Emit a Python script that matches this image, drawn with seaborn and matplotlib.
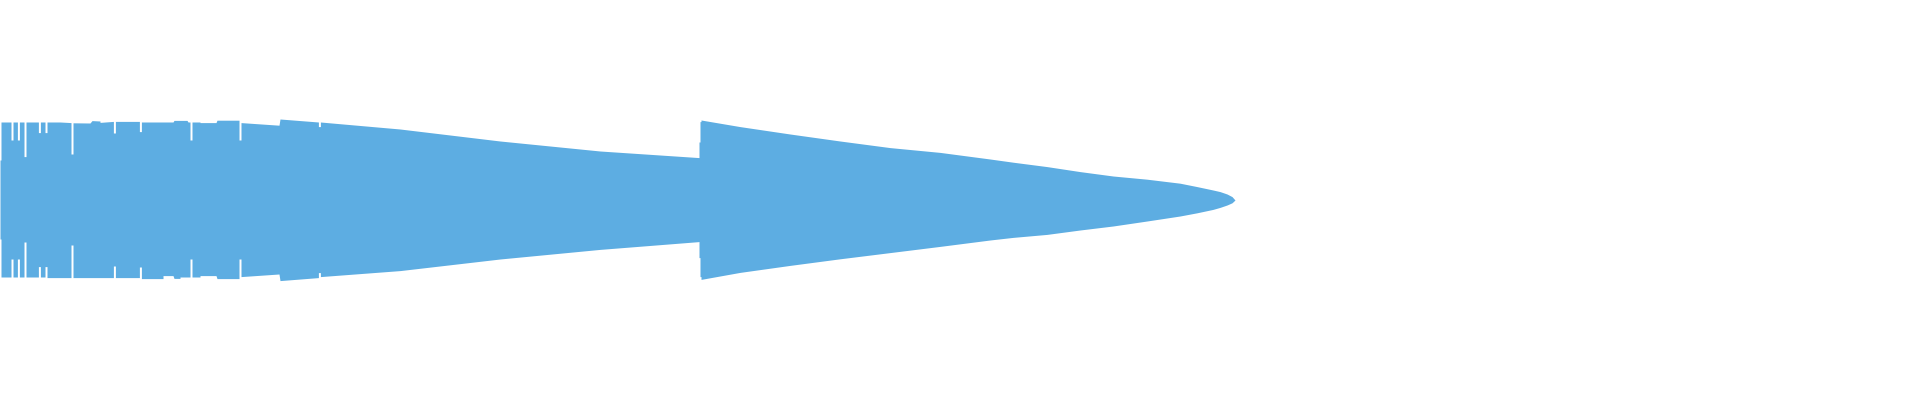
import numpy as np
import pandas as pd
import matplotlib
matplotlib.use("Agg")
import matplotlib.pyplot as plt
import seaborn as sns

# waveform envelope: time (ms), upper peak, lower peak
# amplitude is full scale = 1.0, the short dips are the white notches
t_ms = [0, 5, 5, 55, 55, 65, 65, 87, 87, 97, 97, 120, 120, 130, 130,
        192, 192, 202, 202, 225, 225, 235, 235, 300, 355, 355, 365, 365,
        450, 460, 500, 500, 567, 567, 577, 577, 697, 697, 707, 707,
        815, 815, 865, 870, 900, 900, 935, 940, 950, 950, 960, 960,
        1000, 1000, 1080, 1085, 1195, 1195, 1205, 1205, 1395, 1400,
        1592, 1592, 1602, 1602, 2000, 2500, 3000, 3495, 3495, 3500,
        3500, 3505, 3505, 3700, 3950, 4200, 4450, 4700, 4950, 5065,
        5235, 5400, 5565, 5735, 5900, 5985, 6065, 6100, 6135, 6160, 6175]

upper = [0.200, 0.200, 0.390, 0.390, 0.300, 0.300, 0.390, 0.390, 0.300,
         0.300, 0.390, 0.390, 0.217, 0.217, 0.390,
         0.390, 0.337, 0.337, 0.390, 0.390, 0.337, 0.337, 0.390, 0.390,
         0.387, 0.230, 0.230, 0.386,
         0.385, 0.397, 0.395, 0.388, 0.393, 0.335, 0.335, 0.393, 0.393,
         0.342, 0.342, 0.390,
         0.390, 0.390, 0.390, 0.398, 0.398, 0.398, 0.398, 0.390, 0.390,
         0.300, 0.300, 0.390,
         0.390, 0.387, 0.387, 0.399, 0.399, 0.300, 0.300, 0.387, 0.374,
         0.405,
         0.390, 0.367, 0.367, 0.390, 0.355, 0.295, 0.245, 0.212, 0.290,
         0.290,
         0.392, 0.392, 0.400, 0.367, 0.330, 0.295, 0.262, 0.238, 0.205,
         0.189,
         0.167, 0.142, 0.120, 0.104, 0.084, 0.067, 0.050, 0.042, 0.030,
         0.017, 0.000]

lower = [-0.195, -0.195, -0.385, -0.385, -0.295, -0.295, -0.385, -0.385,
         -0.295, -0.295, -0.385, -0.385, -0.210, -0.210, -0.385,
         -0.385, -0.333, -0.333, -0.385, -0.385, -0.333, -0.333, -0.388,
         -0.388, -0.388, -0.225, -0.225, -0.388,
         -0.388, -0.388, -0.388, -0.388, -0.388, -0.330, -0.330, -0.388,
         -0.388, -0.335, -0.335, -0.393,
         -0.393, -0.378, -0.378, -0.392, -0.392, -0.385, -0.385, -0.385,
         -0.385, -0.295, -0.295, -0.385,
         -0.385, -0.378, -0.378, -0.393, -0.393, -0.295, -0.295, -0.383,
         -0.370, -0.403,
         -0.388, -0.363, -0.363, -0.383, -0.353, -0.295, -0.247, -0.208,
         -0.288, -0.288,
         -0.383, -0.383, -0.397, -0.362, -0.327, -0.294, -0.263, -0.232,
         -0.200, -0.187,
         -0.172, -0.150, -0.130, -0.105, -0.080, -0.064, -0.047, -0.037,
         -0.025, -0.014, 0.000]

duration_ms = 9600
wave_color = "#5DADE2"

df = pd.DataFrame({"t": t_ms, "upper": upper, "lower": lower})

sns.set_theme(style="white")
fig = plt.figure(figsize=(19.2, 4), dpi=100)
ax = fig.add_axes([0, 0, 1, 1])

ax.fill_between(df["t"], df["lower"], df["upper"], color=wave_color,
                linewidth=0)

ax.set_xlim(0, duration_ms)
ax.set_ylim(-1, 1)
ax.set_axis_off()

fig.savefig("out.png", dpi=100, facecolor="white")
